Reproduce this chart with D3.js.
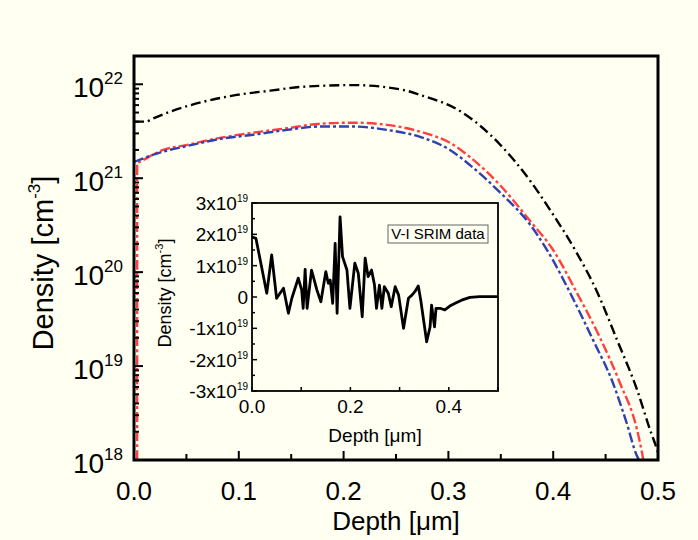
<!DOCTYPE html>
<html><head><meta charset="utf-8">
<script src="https://cdn.jsdelivr.net/npm/d3@7"></script>
<style>
html,body{margin:0;padding:0;background:#fffff2;}
svg{display:block;font-family:"Liberation Sans",Arial,Helvetica,sans-serif;}
</style></head>
<body>
<script>
// ---------- DATA ----------
const xTickLabels = ["0.0","0.1","0.2","0.3","0.4","0.5"];
const yTickExponents = [18,19,20,21,22];

const blackDepth   = [0,0.012,0.0153,0.0344,0.0658,0.098,0.130,0.161,0.209,0.257,0.273,0.311,0.349,0.378,0.397,0.4218,0.4418,0.4609,0.480,0.4924,0.499,0.502];
const blackDensity = [4.0e21,4.0e21,4.17e21,5.1e21,6.5e21,7.7e21,8.55e21,9.4e21,9.8e21,8.7e21,7.7e21,5.2e21,2.3e21,9.4e20,4.6e20,1.65e20,6.2e19,1.9e19,5.6e18,2.1e18,1.3e18,1.0e18];

const redDepth   = [0.003,0.003,0.0057,0.0277,0.0506,0.082,0.1136,0.146,0.1775,0.209,0.2414,0.273,0.3015,0.3206,0.349,0.378,0.3998,0.4227,0.4447,0.4637,0.480,0.4847,0.486];
const redDensity = [1.0e18,1.45e21,1.5e21,2.0e21,2.26e21,2.69e21,3.05e21,3.4e21,3.8e21,3.9e21,3.7e21,3.13e21,2.38e21,1.68e21,8.5e20,3.5e20,1.73e20,6.0e19,2.0e19,6.6e18,2.1e18,1.2e18,1.0e18];

const blueDepth   = [0,0.0277,0.0506,0.082,0.1136,0.146,0.1775,0.209,0.2414,0.273,0.3015,0.3206,0.349,0.378,0.394,0.419,0.438,0.457,0.470,0.480,0.482];
const blueDensity = [1.49e21,1.92e21,2.2e21,2.62e21,2.9e21,3.27e21,3.55e21,3.55e21,3.27e21,2.75e21,2.0e21,1.38e21,7.1e20,3.2e20,1.73e20,5.2e19,1.9e19,6.6e18,2.5e18,1.1e18,1.0e18];

// inset: V-I SRIM data (density in units of 1e19 cm^-3)
const insetDepth   = [0,0.008,0.018,0.030,0.040,0.050,0.064,0.074,0.081,0.094,0.101,0.104,0.108,0.112,0.121,0.132,0.140,0.150,0.155,0.159,0.164,0.169,0.173,0.179,0.184,0.193,0.199,0.209,0.216,0.224,0.230,0.236,0.243,0.249,0.253,0.259,0.264,0.269,0.277,0.283,0.291,0.298,0.308,0.318,0.325,0.331,0.338,0.343,0.355,0.362,0.365,0.371,0.374,0.382,0.392,0.402,0.413,0.426,0.443,0.463,0.500];
const insetDensity = [1.92,1.87,1.08,0.12,1.34,-0.04,0.28,-0.52,-0.04,0.60,0.22,-0.36,0.88,-0.36,0.86,0.22,-0.15,0.81,0.44,0.54,-0.20,1.71,-0.52,2.56,1.29,0.86,-0.36,1.08,0.76,-0.63,1.24,0.65,0.86,0.38,-0.36,0.38,-0.36,0.33,0.12,-0.31,0.33,0.06,-1.0,-0.04,0.06,0.17,0.35,-0.10,-1.43,-0.95,-0.26,-0.95,-0.36,-0.36,-0.41,-0.29,-0.20,-0.10,-0.01,0.01,0.01];
const insetXTickLabels = ["0.0","0.2","0.4"];
const insetYTickLabels = ["-3","-2","-1","0","1","2","3"];
const insetLegend = "V-I SRIM data";

// ---------- LAYOUT ----------
const W = 698, H = 540;
const svg = d3.select("body").append("svg").attr("width", W).attr("height", H);
svg.append("rect").attr("width", W).attr("height", H).attr("fill", "#fffff2");

const x = d3.scaleLinear().domain([0, 0.5]).range([134, 658]);
const y = d3.scaleLog().domain([1e18, 2e22]).range([460, 56]);

svg.append("clipPath").attr("id","clipMain").append("rect")
  .attr("x", 134).attr("y", 56).attr("width", 524).attr("height", 404);

const line = d3.line().x(d => x(d[0])).y(d => y(d[1])).curve(d3.curveMonotoneX);
const series = [
  {xs: redDepth,   ys: redDensity,   color: "#ff4040", dash: "10,3,3,3"},
  {xs: blueDepth,  ys: blueDensity,  color: "#3040b0", dash: "10,3,3,3"},
  {xs: blackDepth, ys: blackDensity, color: "#000000", dash: "10,4,2,4"}
];
const gCurves = svg.append("g").attr("clip-path","url(#clipMain)");
series.forEach(s => {
  gCurves.append("path")
    .datum(s.xs.map((v,i) => [v, s.ys[i]]))
    .attr("d", line).attr("fill","none")
    .attr("stroke", s.color).attr("stroke-width", 2.4)
    .attr("stroke-dasharray", s.dash);
});

// main ticks
const gAx = svg.append("g").attr("stroke","#000");
d3.range(0, 0.5001, 0.05).forEach((t,i) => {
  const major = i % 2 === 0;
  gAx.append("line").attr("x1", x(t)).attr("x2", x(t))
    .attr("y1", 460).attr("y2", 460 - (major ? 9 : 6)).attr("stroke-width", 2);
});
y.ticks().forEach(t => {
  const e = Math.log10(t);
  const major = Math.abs(e - Math.round(e)) < 1e-9;
  gAx.append("line").attr("x1", 134).attr("x2", 134 + (major ? 9 : 5))
    .attr("y1", y(t)).attr("y2", y(t)).attr("stroke-width", 2);
});

// main frame
svg.append("rect").attr("x",134).attr("y",56).attr("width",524).attr("height",404)
  .attr("fill","none").attr("stroke","#000").attr("stroke-width",3);

// main tick labels
xTickLabels.forEach(lbl => {
  svg.append("text").attr("x", x(+lbl)).attr("y", 500)
    .attr("text-anchor","middle").attr("font-size", 26).text(lbl);
});
yTickExponents.forEach(e => {
  const t = svg.append("text").attr("x", 123).attr("y", y(Math.pow(10,e)) + 13)
    .attr("text-anchor","end").attr("font-size", 28);
  t.append("tspan").text("10");
  t.append("tspan").attr("font-size", 17).attr("dy", -13).text(e);
});

// main axis titles
svg.append("text").attr("x", 396).attr("y", 530).attr("text-anchor","middle")
  .attr("font-size", 26).text("Depth [\u03BCm]");
const yl = svg.append("text").attr("transform","translate(53,263) rotate(-90)")
  .attr("text-anchor","middle").attr("font-size", 29);
yl.append("tspan").text("Density [cm");
yl.append("tspan").attr("font-size", 17).attr("dy", -13).text("-3");
yl.append("tspan").attr("dy", 13).text("]");

// ---------- INSET ----------
const ix = d3.scaleLinear().domain([0, 0.5]).range([252, 498]);
const iy = d3.scaleLinear().domain([-3, 3]).range([391, 203]);
svg.append("rect").attr("x",252).attr("y",203).attr("width",246).attr("height",188)
  .attr("fill","#fffff2");

svg.append("path")
  .datum(insetDepth.map((v,i) => [v, insetDensity[i]]))
  .attr("d", d3.line().x(d => ix(d[0])).y(d => iy(d[1])))
  .attr("fill","none").attr("stroke","#000").attr("stroke-width",2.8)
  .attr("stroke-linejoin","round");

const gi = svg.append("g").attr("stroke","#000");
d3.range(0, 0.5001, 0.1).forEach(t => {
  gi.append("line").attr("x1", ix(t)).attr("x2", ix(t)).attr("y1", 391).attr("y2", 387)
    .attr("stroke-width", 1.5);
});
d3.range(-3, 3.001, 0.5).forEach(t => {
  const major = Math.abs(t - Math.round(t)) < 1e-9;
  gi.append("line").attr("x1", 252).attr("x2", 252 + (major ? 5 : 3)).attr("y1", iy(t)).attr("y2", iy(t))
    .attr("stroke-width", 1.5);
});
svg.append("rect").attr("x",252).attr("y",203).attr("width",246).attr("height",188)
  .attr("fill","none").attr("stroke","#000").attr("stroke-width",1.8);

insetXTickLabels.forEach(lbl => {
  svg.append("text").attr("x", ix(+lbl)).attr("y", 413).attr("text-anchor","middle")
    .attr("font-size", 19).text(lbl);
});
insetYTickLabels.forEach(lbl => {
  const v = +lbl;
  const t = svg.append("text").attr("x", 248).attr("y", iy(v) + 7)
    .attr("text-anchor","end").attr("font-size", 19);
  if (v === 0) { t.text("0"); }
  else {
    t.append("tspan").text(lbl + "x10");
    t.append("tspan").attr("font-size", 10).attr("dy", -8).text("19");
  }
});
svg.append("text").attr("x", 375).attr("y", 442).attr("text-anchor","middle")
  .attr("font-size", 19).text("Depth [\u03BCm]");
const iyl = svg.append("text").attr("transform","translate(171,293) rotate(-90)")
  .attr("text-anchor","middle").attr("font-size", 18);
iyl.append("tspan").text("Density [cm");
iyl.append("tspan").attr("font-size", 11).attr("dy", -8).text("-3");
iyl.append("tspan").attr("dy", 8).text("]");

// inset legend box
svg.append("rect").attr("x",388).attr("y",225).attr("width",100).attr("height",18)
  .attr("fill","#fffff2").attr("stroke","#666").attr("stroke-width",1);
svg.append("text").attr("x",438).attr("y",239).attr("text-anchor","middle")
  .attr("font-size",15).text(insetLegend);
</script>
</body></html>
